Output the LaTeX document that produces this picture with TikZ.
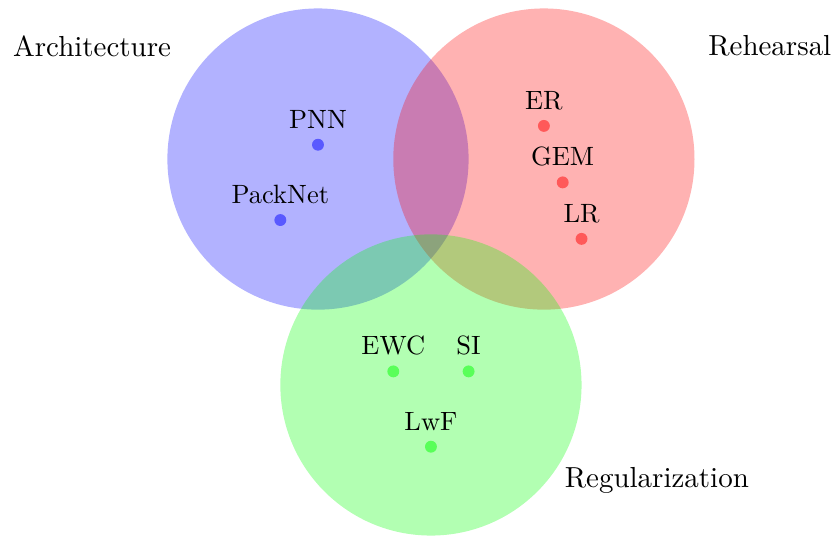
\documentclass[tikz,border=0pt]{standalone}
\usepackage{fontspec}
\begin{document}
\begin{tikzpicture}[
  font=\fontsize{10}{12}\selectfont,
  setcircle/.style={circle, minimum size=4cm, inner sep=0pt, fill=#1, fill opacity=0.3},
  family/.style={font=\fontsize{10.95}{13.6}\selectfont},
  method/.style={circle, minimum size=4.5pt, inner sep=0pt, fill=#1, fill opacity=0.5,
    text opacity=1, label distance=-1pt}
]
\useasboundingbox (-4.223,-5.033) rectangle (6.866,2.112);

% the three families of methods
\node[setcircle=blue]  (arch) at (0,0)    {};
\node[setcircle=red]   (reh)  at (3,0)    {};
\node[setcircle=green] (reg)  at (1.5,-3) {};

% family names
\node[family] (archlabel) at (-3,1.5)    {Architecture};
\node[family] (rehlabel)  at (6,1.5)     {Rehearsal};
\node[family] (reglabel)  at (4.5,-4.27) {Regularization};

% individual methods
\node[method=blue, label={above:PNN}]     (pnn)     at (0,0.19)      {};
\node[method=blue, label={above:PackNet}] (packnet) at (-0.5,-0.81)  {};
\node[method=red,  label={above:ER}]      (er)      at (3,0.44)      {};
\node[method=red,  label={above:GEM}]     (gem)     at (3.25,-0.31)  {};
\node[method=red,  label={above:LR}]      (lr)      at (3.5,-1.06)   {};
\node[method=green,label={above:EWC}]     (ewc)     at (1,-2.82)     {};
\node[method=green,label={above:SI}]      (si)      at (2,-2.82)     {};
\node[method=green,label={above:LwF}]     (lwf)     at (1.5,-3.82)   {};
\end{tikzpicture}
\end{document}
